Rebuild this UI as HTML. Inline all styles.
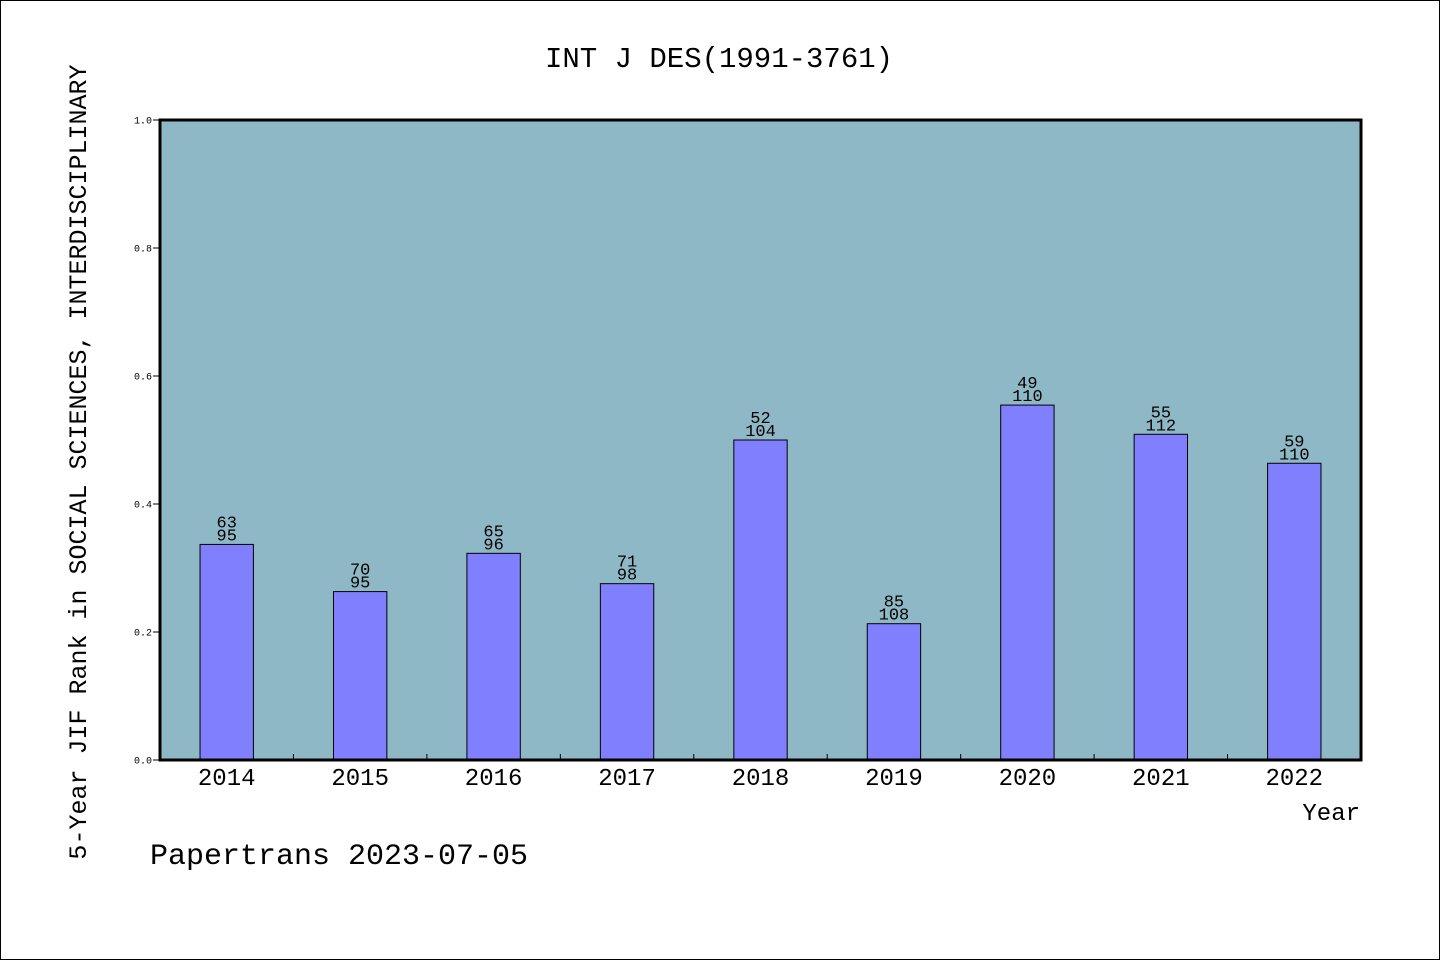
<!DOCTYPE html>
<html><head><meta charset="utf-8"><style>
body{margin:0;width:1440px;height:960px;background:#fff;overflow:hidden}
svg text{font-family:"Liberation Mono","WenQuanYi Zen Hei",monospace;fill:#000}
</style></head><body>
<svg id="chart" width="1440" height="960" xmlns="http://www.w3.org/2000/svg">
<rect x="0.5" y="0.5" width="1439" height="959" fill="#fff" stroke="#000" stroke-width="1"/>
<text x="719" y="67" font-size="29" text-anchor="middle">INT J DES(1991-3761)</text>
<rect x="160" y="120" width="1201" height="640" fill="#8FB8C6"/>
<g id="bars"></g>
<rect x="160" y="120" width="1201" height="640" fill="none" stroke="#000" stroke-width="3"/>
<text transform="translate(86,462) rotate(-90)" font-size="25" text-anchor="middle">5-Year JIF Rank in SOCIAL SCIENCES, INTERDISCIPLINARY</text>
<text x="1360" y="820" font-size="24" text-anchor="end">Year</text>
<text x="150" y="864" font-size="30">Papertrans 2023-07-05</text>
</svg>
<script>
const years=["2014","2015","2016","2017","2018","2019","2020","2021","2022"];
const ranks=[63,70,65,71,52,85,49,55,59];
const totals=[95,95,96,98,104,108,110,112,110];
const yTicks=["0.0","0.2","0.4","0.6","0.8","1.0"];
const NS="http://www.w3.org/2000/svg";
const L=160,T=120,W=1201,H=640;
const slot=W/years.length;
const xs=i=>L+slot*(i+0.5);
const ys=v=>T+H-v*H;
const g=document.getElementById('bars');
function mk(t,a){const e=document.createElementNS(NS,t);for(const k in a)e.setAttribute(k,a[k]);g.appendChild(e);return e;}
yTicks.forEach(t=>{const y=ys(parseFloat(t));
 const l=mk('line',{x1:153,x2:160,y1:y,y2:y,stroke:'#000','stroke-width':1});
 
 
 const tx=mk('text',{x:152,y:y+3.5,'font-size':10,'text-anchor':'end'});tx.textContent=t;
 
 
});
years.forEach((yr,i)=>{
 const v=1-ranks[i]/totals[i];const bw=slot*0.4;const top=ys(v);
 const r=mk('rect',{x:xs(i)-bw/2,y:top,width:bw,height:ys(0)-top,fill:'#8080FF',stroke:'#000','stroke-width':1});
 
 
 const a=mk('text',{x:xs(i),y:top-17,'font-size':17,'text-anchor':'middle'});a.textContent=ranks[i];
 
 
 const b=mk('text',{x:xs(i),y:top-4,'font-size':17,'text-anchor':'middle'});b.textContent=totals[i];
 
 
 const xl=mk('text',{x:xs(i),y:785,'font-size':24,'text-anchor':'middle'});xl.textContent=yr;
 
 
 if(i>0){const bx=L+slot*i;const tk=mk('line',{x1:bx,x2:bx,y1:754,y2:760,stroke:'#000','stroke-width':1});
  
  }
});
</script>
</body></html>
